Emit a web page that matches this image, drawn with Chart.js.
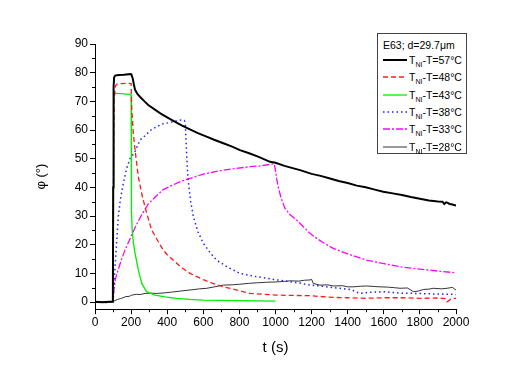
<!DOCTYPE html>
<html>
<head>
<meta charset="utf-8">
<script src="https://cdn.jsdelivr.net/npm/chart.js@4.4.0/dist/chart.umd.min.js"></script>
<style>
    body { margin: 0; background: #fff; }
    #wrap { position: relative; width: 529px; height: 370px; }
    #legend {
        position: absolute; left: 377px; top: 33px; width: 88px; height: 119px;
        border: 1px solid #444; background: #fff;
        font-family: "Liberation Sans", Arial, sans-serif; font-size: 10.5px; color: #000;
    }
    .row { position: absolute; left: 5px; height: 14px; line-height: 14px; white-space: nowrap; }
    .row svg { position: absolute; left: 0; top: 5px; }
    .row span { position: absolute; left: 26px; top: 0; }
    .row sub { font-size: 7px; vertical-align: -3px; line-height: 0; }
</style>
</head>
<body>
<div id="wrap">
    <canvas id="chart" width="529" height="370"></canvas>
    <div id="legend"></div>
</div>
<script>
// Ticks
const xTicks = [0, 200, 400, 600, 800, 1000, 1200, 1400, 1600, 1800, 2000];
const yTicks = [0, 10, 20, 30, 40, 50, 60, 70, 80, 90];

// Series labels (T_NI - T)
const labels = ['57', '48', '43', '38', '33', '28'];

// T_NI-T=57°C
const t57 = [0, 40, 80, 99, 101, 103, 106, 112, 130, 160, 198, 202, 209, 215, 222, 235, 249, 277, 295, 342, 369, 400, 434, 480, 526, 570, 618, 660, 711, 760, 803, 850, 900, 970, 1000, 1050, 1136, 1200, 1250, 1302, 1350, 1400, 1450, 1500, 1550, 1597, 1650, 1700, 1750, 1800, 1850, 1900, 1925, 1935, 1945, 1955, 1965, 1980, 2000];
const phi57 = [0.1, -0.1, 0.1, 0.2, 40, 75, 78.4, 79, 79.2, 79.3, 79.5, 79.3, 78, 76, 74, 72.6, 71.6, 69.8, 68.7, 66.7, 65.5, 64.4, 63.2, 61.6, 60.2, 58.9, 57.7, 56.6, 55.4, 54.2, 53, 52, 50.8, 48.9, 48.6, 47.5, 46, 44.7, 44, 43.1, 42.2, 41.5, 40.6, 40, 39.2, 38.5, 37.9, 37.3, 36.6, 36, 35.4, 35.1, 35, 34.2, 34.8, 34.6, 34.2, 34, 33.7];

// T_NI-T=48°C
const t48 = [0, 40, 80, 99, 102, 106, 112, 120, 150, 180, 200, 203, 212, 222, 240, 260, 277, 300, 314, 342, 378, 400, 434, 470, 526, 600, 650, 711, 800, 859, 1006, 1100, 1191, 1320, 1400, 1500, 1600, 1700, 1800, 1900, 1940, 1950, 1960, 1975, 2000];
const phi48 = [0, 0.1, -0.1, 0.1, 40, 70, 75.1, 76, 76.2, 76.3, 76.2, 68, 59, 53, 43.7, 37.5, 33.2, 28, 25.1, 22, 18.1, 16.5, 14.6, 12.5, 10, 7.8, 6.6, 5.3, 4, 3, 2.4, 2.3, 2.2, 1.6, 1.5, 1.3, 1.5, 1.5, 1.3, 1.4, 1.2, 0.1, 0.5, 1.2, 1.3];

// T_NI-T=43°C
const t43 = [0, 40, 80, 99, 101, 103, 106, 120, 160, 194, 200, 201, 202, 203, 206, 212, 222, 240, 259, 286, 332, 388, 450, 526, 600, 700, 800, 900, 1000];
const phi43 = [0, -0.1, 0.1, 0.1, 40, 70, 72.8, 72.8, 72.6, 72.4, 72.2, 62, 45, 32, 25, 21, 17, 11.2, 6.5, 3.6, 2.4, 1.8, 1.3, 0.9, 0.7, 0.6, 0.5, 0.4, 0.3];

// T_NI-T=38°C
const t38 = [0, 40, 80, 100, 105, 111, 120, 129, 140, 157, 175, 194, 222, 249, 277, 310, 342, 378, 406, 440, 471, 495, 500, 503, 508, 513, 517, 530, 545, 570, 600, 640, 674, 740, 803, 880, 951, 1000, 1080, 1136, 1191, 1246, 1300, 1357, 1420, 1450, 1468, 1520, 1597, 1700, 1782, 1880, 1985, 2000];
const phi38 = [0, 0.1, 0, 0.1, 5, 12.3, 21, 29.8, 35.5, 41.4, 46.5, 50, 52.5, 56.5, 58, 60, 61.2, 62.2, 62.5, 63, 63.5, 63.3, 62.5, 58, 51, 45, 42, 35, 29.8, 24.5, 20.5, 17, 14.6, 12, 10, 9, 8.3, 7.8, 7.1, 6.6, 5.9, 5.6, 5.2, 4.8, 4.3, 3.4, 3, 3.4, 3.6, 3.1, 3, 2.8, 2.7, 2.6];

// T_NI-T=33°C
const t33 = [0, 50, 100, 103, 106, 113, 125, 145, 166, 190, 222, 255, 295, 340, 378, 430, 480, 526, 600, 660, 711, 780, 859, 920, 979, 993, 998, 1005, 1015, 1030, 1052, 1080, 1117, 1150, 1191, 1228, 1270, 1320, 1400, 1505, 1600, 1690, 1800, 1900, 2000];
const phi33 = [0, 0, 0, 3, 5, 8, 10.5, 14.5, 18.1, 21.5, 26, 30, 34.2, 37, 39.2, 40.8, 42.2, 43.1, 44.6, 45.4, 46, 46.6, 47.2, 47.5, 48.1, 48.2, 46.5, 43.5, 40.2, 36.5, 32.7, 30.5, 28.6, 26.5, 24, 22.2, 20.5, 18.7, 16.8, 14.6, 13.4, 12.3, 11.5, 10.8, 10.2];

// T_NI-T=28°C
const t28 = [0, 20, 40, 60, 80, 100, 110, 125, 140, 148, 170, 190, 203, 230, 250, 277, 310, 340, 388, 430, 470, 526, 580, 620, 670, 711, 760, 800, 850, 896, 950, 1000, 1050, 1080, 1130, 1160, 1191, 1200, 1209, 1246, 1290, 1320, 1370, 1400, 1431, 1470, 1505, 1550, 1579, 1620, 1660, 1690, 1730, 1750, 1763, 1790, 1820, 1850, 1874, 1920, 1950, 1980, 2000];
const phi28 = [0, -0.2, 0.1, -0.3, 0, 0.1, 0.5, 0.9, 1.2, 1.3, 1.9, 2, 2.4, 2.7, 2.6, 3, 3.1, 3, 3.2, 3.5, 3.8, 4.2, 4.6, 4.8, 5.4, 5.9, 6, 6.2, 6.5, 6.7, 6.9, 7, 7.2, 7.4, 7.3, 7.6, 7.7, 7.9, 6.5, 5.9, 6, 5.6, 5.7, 5.3, 5.3, 5.5, 5.6, 5.4, 5.3, 5.2, 5, 4.8, 4.9, 4.2, 3.6, 3.8, 4.4, 4.5, 4.8, 4.6, 4.8, 5.1, 4.2];

const times = [t57, t48, t43, t38, t33, t28];
const values = [phi57, phi48, phi43, phi38, phi33, phi28];

// estilos de cada curva
const colors = ['#000000', '#ff1a1a', '#00ee00', '#2222ff', '#ff00ff', '#000000'];
const widths = [2, 1.3, 1.3, 1.5, 1.3, 0.8];
const dashes = [[], [5, 3], [], [1.5, 3], [7, 2, 2, 2], []];

function toPoints(ts, vs) {
    return ts.map((t, i) => ({ x: t, y: vs[i] }));
}

const datasets = labels.map((lab, i) => ({
    label: lab,
    data: toPoints(times[i], values[i]),
    borderColor: colors[i],
    borderWidth: widths[i],
    borderDash: dashes[i],
    pointRadius: 0,
    tension: 0,
    fill: false
}));

// Ticks menores (sin etiqueta)
const minorTicks = {
    id: 'minorTicks',
    afterDraw(chart) {
        const ctx = chart.ctx;
        const xs = chart.scales.x, ys = chart.scales.y;
        const area = chart.chartArea;
        ctx.save();
        ctx.strokeStyle = '#000';
        ctx.lineWidth = 1;
        ctx.beginPath();
        for (let v = 100; v < 2000; v += 200) {
            const px = Math.round(xs.getPixelForValue(v)) + 0.5;
            ctx.moveTo(px, area.bottom);
            ctx.lineTo(px, area.bottom + 3);
        }
        for (let v = 5; v < 90; v += 10) {
            const py = Math.round(ys.getPixelForValue(v)) + 0.5;
            ctx.moveTo(area.left, py);
            ctx.lineTo(area.left - 3, py);
        }
        ctx.stroke();
        ctx.restore();
    }
};

Chart.defaults.font.family = '"Liberation Sans", Arial, sans-serif';
Chart.defaults.color = '#000';

new Chart(document.getElementById('chart'), {
    type: 'line',
    data: { datasets: datasets },
    options: {
        responsive: false,
        animation: false,
        layout: { padding: { left: 0, right: 73, top: 44, bottom: 0 } },
        plugins: { legend: { display: false }, tooltip: { enabled: false } },
        scales: {
            x: {
                type: 'linear',
                min: 0,
                max: 2000,
                afterBuildTicks: s => { s.ticks = xTicks.map(v => ({ value: v })); },
                afterFit: s => { s.height = 60.8; },
                ticks: { font: { size: 12 }, padding: 1, maxRotation: 0, autoSkip: false, callback: v => String(v) },
                grid: { drawOnChartArea: false, tickLength: 5, color: '#000' },
                border: { color: '#000' },
                title: { display: true, text: 't (s)', font: { size: 15 }, padding: { top: 0, bottom: 13 } }
            },
            y: {
                min: -2.5,
                max: 90,
                afterBuildTicks: s => { s.ticks = yTicks.map(v => ({ value: v })); },
                afterFit: s => { s.width = 95; },
                ticks: { font: { size: 12 }, padding: 2, autoSkip: false, callback: v => String(v) },
                grid: { drawOnChartArea: false, tickLength: 5, color: '#000' },
                border: { color: '#000' },
                title: { display: true, text: 'φ (°)', font: { size: 13 }, padding: { top: 34, bottom: 0 } }
            }
        }
    },
    plugins: [minorTicks]
});

// Leyenda en HTML (para los subíndices)
const legend = document.getElementById('legend');
const head = document.createElement('div');
head.className = 'row';
head.style.top = '4px';
head.textContent = 'E63; d=29.7μm';
legend.appendChild(head);

labels.forEach((lab, i) => {
    const row = document.createElement('div');
    row.className = 'row';
    row.style.top = (19 + i * 17.3) + 'px';
    const dash = dashes[i].length ? dashes[i].join(',') : 'none';
    row.innerHTML =
        '<svg width="24" height="4"><line x1="0" y1="2" x2="24" y2="2" stroke="' + colors[i] +
        '" stroke-width="' + widths[i] + '" stroke-dasharray="' + dash + '"/></svg>' +
        '<span>T<sub>NI</sub>-T=' + lab + '°C</span>';
    legend.appendChild(row);
});
</script>
</body>
</html>
